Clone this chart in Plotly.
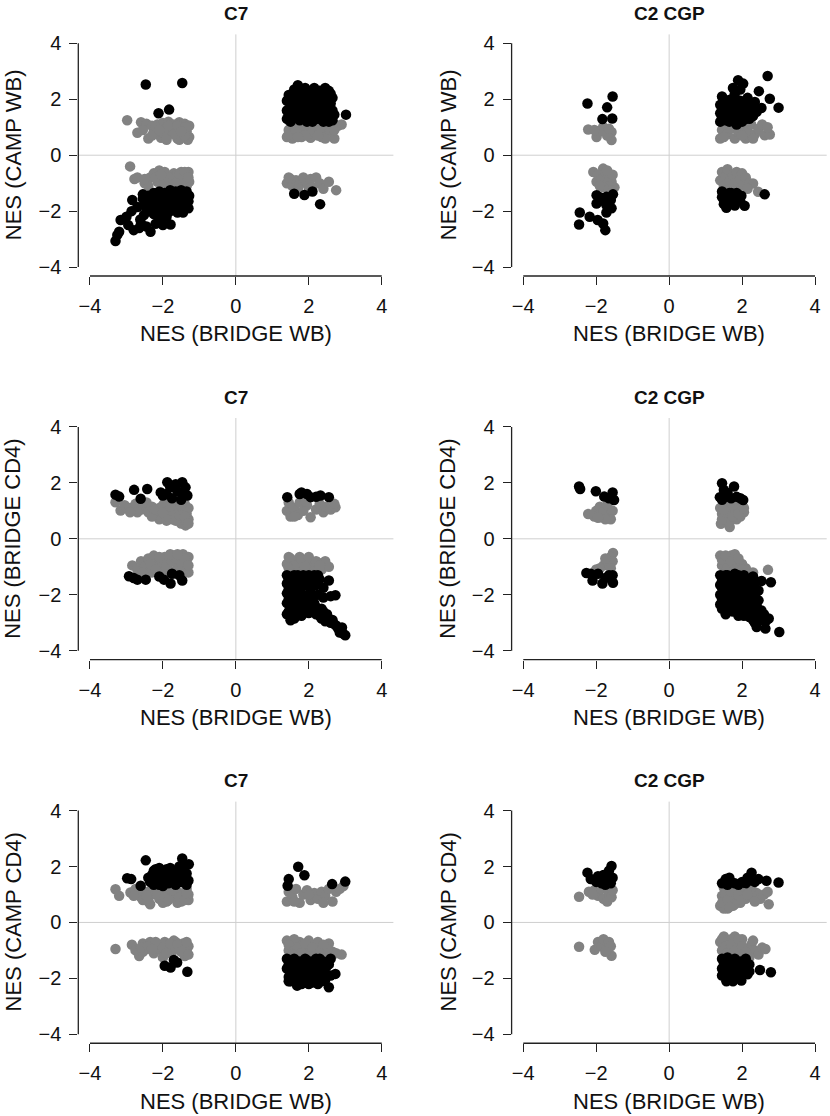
import plotly.graph_objects as go

# ---------------- data (NES values) ----------------
titles = ["C7", "C2 CGP", "C7", "C2 CGP", "C7", "C2 CGP"]
x_label = "NES (BRIDGE WB)"
y_labels = ["NES (CAMP WB)", "NES (CAMP WB)", "NES (BRIDGE CD4)", "NES (BRIDGE CD4)",
            "NES (CAMP CD4)", "NES (CAMP CD4)"]
tick_vals = [-4, -2, 0, 2, 4]
tick_text = ["\u22124", "\u22122", "0", "2", "4"]

# Panel 1: C7, CAMP WB vs BRIDGE WB
p1_gray = [(-2.98,1.25),(-2.6,1.18),(-2.45,1.12),(-2.3,1.05),(-2.15,1.1),(-2.0,1.15),(-1.85,1.2),(-1.7,1.1),(-1.55,1.18),(-1.4,1.12),(-1.28,1.05),
           (-2.7,0.8),(-2.55,0.9),(-2.4,0.6),(-2.25,0.85),(-2.1,0.75),(-1.95,0.95),(-1.8,0.8),(-1.65,0.9),(-1.5,0.7),(-1.35,0.85),(-1.28,0.65),
           (-2.05,0.62),(-1.9,0.68),(-1.75,1.0),(-1.6,0.6),(-1.45,0.95),(-1.32,0.55),(-1.55,0.55),(-2.2,1.0),
           (-2.3,0.7),(-2.0,0.8),(-1.85,1.05),(-1.7,0.75),(-1.6,1.05),(-1.4,0.7),(-1.38,1.0),(-1.5,0.85),(-2.1,0.9),(-1.9,0.55),
           (-2.9,-0.4),(-2.78,-0.85),(-2.7,-0.8),(-2.5,-1.0),(-2.35,-0.8),(-2.25,-0.65),(-2.1,-0.55),(-2.0,-0.85),(-1.9,-0.7),(-1.8,-1.0),(-1.7,-0.65),
           (-1.6,-0.85),(-1.5,-0.6),(-1.4,-0.75),(-1.3,-0.6),(-1.28,-0.95),(-1.35,-1.1),(-1.55,-1.05),(-1.75,-0.85),(-2.15,-0.95),(-2.4,-1.1),(-1.95,-1.05),(-1.62,-0.7),(-1.45,-0.9),
           (-2.2,-0.8),(-1.95,-0.6),(-1.85,-0.8),(-1.7,-0.9),(-1.55,-0.7),(-1.4,-0.6),(-1.3,-0.8),(-2.05,-0.7),(-1.65,-1.0),(-2.5,-0.85),
           (1.4,0.65),(1.45,0.9),(1.5,1.15),(1.6,0.75),(1.7,1.0),(1.8,0.65),(1.9,0.85),(2.0,1.1),(2.1,0.7),(2.2,0.95),(2.3,1.15),(2.4,0.8),(2.5,1.0),(2.6,0.85),
           (2.7,0.6),(2.8,1.05),(2.9,1.1),(2.55,1.15),(1.55,0.6),(2.05,0.62),(2.35,0.65),(1.75,1.18),(2.15,1.15),
           (1.45,0.75),(1.65,0.9),(1.85,1.05),(1.95,0.7),(2.15,0.85),(2.3,0.95),(2.45,0.6),(2.7,0.9),(1.7,0.65),(2.25,0.7),
           (1.4,-1.0),(1.5,-0.85),(1.55,-1.1),(1.65,-0.9),(1.75,-1.05),(1.85,-0.8),(1.95,-1.0),(2.05,-0.85),(2.1,-1.15),(2.2,-0.8),(2.3,-1.0),(2.4,-1.2),
           (2.55,-0.95),(2.75,-1.25),(1.45,-0.8),(2.0,-1.2),(1.7,-1.2)]
p1_black = [(-2.47,2.53),(-1.47,2.58),(-2.12,1.5),(-1.83,1.63),
            (-2.55,-1.4),(-2.4,-1.45),(-2.25,-1.35),(-2.1,-1.3),(-1.95,-1.35),(-1.8,-1.25),(-1.65,-1.3),(-1.5,-1.25),(-1.35,-1.3),(-1.28,-1.45),
            (-2.5,-1.7),(-2.35,-1.65),(-2.2,-1.55),(-2.05,-1.6),(-1.9,-1.5),(-1.75,-1.55),(-1.6,-1.5),(-1.45,-1.55),(-1.3,-1.65),
            (-2.45,-1.95),(-2.3,-1.85),(-2.15,-1.9),(-2.0,-1.8),(-1.85,-1.75),(-1.7,-1.85),(-1.55,-1.75),(-1.4,-1.85),(-1.3,-1.9),
            (-2.25,-2.1),(-2.05,-2.05),(-1.8,-2.0),(-1.6,-2.05),(-1.45,-2.05),
            (-2.4,-1.75),(-2.15,-1.7),(-1.95,-1.65),(-1.65,-1.65),(-1.45,-1.4),(-1.35,-1.75),(-2.3,-1.5),(-2.0,-1.95),(-1.75,-1.4),(-1.55,-1.95),
            (-2.55,-1.55),(-2.35,-2.0),(-2.1,-2.2),(-1.9,-2.2),(-1.85,-1.9),(-1.5,-1.65),
            (-2.84,-1.6),(-2.86,-2.0),(-2.7,-1.85),(-2.62,-2.3),(-2.52,-2.14),(-2.6,-2.44),(-2.8,-2.68),(-2.65,-2.6),(-2.34,-2.74),(-2.2,-2.45),
            (-2.0,-2.5),(-1.79,-2.48),(-2.45,-2.55),(-3.16,-2.32),(-3.2,-2.74),(-3.3,-3.07),(-3.25,-2.85),(-3.0,-2.2),(-2.95,-2.5),
            (1.4,1.3),(1.4,1.6),(1.4,1.95),(1.5,1.2),(1.5,1.45),(1.5,1.75),(1.55,2.05),(1.6,1.35),(1.65,1.6),(1.65,1.85),(1.7,2.2),(1.7,2.5),
            (1.75,1.25),(1.8,1.5),(1.8,1.95),(1.85,2.3),(1.9,1.7),(1.95,1.3),(1.95,2.05),(2.0,1.55),(2.05,2.25),(2.05,1.85),(2.1,1.2),(2.15,1.45),
            (2.2,1.7),(2.2,2.1),(2.25,1.3),(2.3,1.9),(2.3,2.3),(2.35,1.55),(2.4,1.2),(2.45,2.4),(2.45,1.75),(2.5,2.05),(2.55,1.4),(2.6,1.85),
            (2.6,2.2),(2.65,1.6),(2.65,1.25),(3.02,1.45),(1.45,2.15),(1.6,2.35),(1.9,2.4),(2.15,2.4),(2.4,2.15),(2.55,1.2),
            (1.45,1.45),(1.55,1.6),(1.6,1.9),(1.75,1.7),(1.85,1.35),(1.9,2.1),(2.0,1.75),(2.1,1.55),(2.1,2.0),(2.25,1.5),(2.3,1.7),(2.35,2.1),
            (2.4,1.4),(2.5,1.6),(2.5,1.85),(2.55,2.3),(1.95,1.2),(2.25,2.2),(1.75,2.05),(1.55,1.3),(2.7,1.45),(2.65,2.05),
            (1.6,-1.38),(1.88,-1.42),(2.1,-1.3),(2.31,-1.75)]

# Panel 2: C2 CGP, CAMP WB vs BRIDGE WB
p2_gray = [(-2.22,0.92),(-1.99,0.65),(-1.81,1.01),(-1.58,0.83),(-1.58,0.54),(-1.9,0.85),(-1.7,0.7),(-2.05,0.9),(-1.65,0.95),
           (-2.08,-0.6),(-1.81,-0.48),(-1.58,-0.95),(-1.99,-0.95),(-1.95,-0.7),(-1.85,-0.85),(-1.75,-0.6),(-1.7,-1.0),(-1.65,-0.75),(-1.55,-0.7),
           (-1.5,-1.15),(-1.6,-1.25),(-1.8,-1.15),(-1.9,-1.1),(-1.7,-0.55),
           (1.4,0.6),(1.45,0.9),(1.55,1.1),(1.6,0.75),(1.7,0.95),(1.8,0.6),(1.9,0.8),(2.0,1.05),(2.1,0.6),(2.15,0.85),(2.25,1.1),(2.35,0.75),
           (2.45,0.95),(2.55,1.1),(2.62,0.71),(2.76,0.74),(2.7,1.0),(1.5,0.65),(2.0,0.7),(1.85,1.1),(2.3,0.6),
           (1.4,-0.9),(1.45,-0.6),(1.5,-1.1),(1.55,-0.75),(1.6,-0.5),(1.65,-0.95),(1.7,-1.2),(1.75,-0.7),(1.8,-1.0),(1.85,-0.6),(1.9,-1.15),
           (1.95,-0.85),(2.0,-0.65),(2.05,-1.05),(2.1,-0.8),(2.2,-1.0),(2.3,-1.01),(2.44,-1.31),(2.15,-1.2),(1.5,-1.25)]
p2_black = [(-2.24,1.85),(-1.7,1.71),(-1.55,2.1),(-1.83,1.29),(-1.56,1.31),
            (-2.45,-2.05),(-2.47,-2.48),(-2.18,-2.2),(-1.96,-2.32),(-1.81,-2.44),(-1.75,-2.68),(-1.99,-1.73),(-1.72,-1.79),(-1.58,-1.9),
            (-1.72,-2.05),(-1.99,-1.43),(-1.72,-1.49),(-1.54,-1.4),(-1.85,-1.6),(-1.6,-1.6),(-1.9,-1.5),
            (1.4,1.2),(1.4,1.5),(1.4,1.8),(1.45,2.1),(1.5,1.35),(1.55,1.65),(1.6,1.95),(1.65,1.2),(1.7,1.5),(1.75,1.8),(1.8,2.2),(1.85,1.3),
            (1.9,1.6),(1.95,1.95),(2.0,1.2),(2.05,1.45),(2.1,1.75),(2.15,2.05),(2.2,1.3),(2.25,1.6),(2.3,1.4),(1.6,1.4),(1.75,2.4),(1.89,2.68),
            (2.03,2.56),(1.95,2.35),(2.46,2.29),(2.76,2.02),(2.7,2.83),(3.0,1.7),(2.53,1.69),(2.4,1.55),(2.35,1.9),(1.5,2.0),(1.85,1.1),
            (1.45,1.65),(1.55,1.25),(1.6,1.75),(1.65,1.5),(1.7,2.0),(1.8,1.55),(1.85,1.85),(1.95,1.4),(2.0,1.65),(2.1,1.3),(2.15,1.55),
            (2.2,1.85),(1.45,1.35),(1.75,1.25),
            (1.45,-1.3),(1.5,-1.6),(1.55,-1.45),(1.57,-1.88),(1.65,-1.35),(1.7,-1.7),(1.75,-1.5),(1.8,-1.8),(1.85,-1.35),(1.9,-1.6),
            (1.98,-1.45),(2.07,-1.81),(2.62,-1.4),(1.6,-1.7),(1.45,-1.5),(1.6,-1.45),(1.7,-1.35),(1.8,-1.55),(1.95,-1.65),(1.5,-1.75)]

# Panel 3: C7, BRIDGE CD4 vs BRIDGE WB
p3_gray = [(-3.3,1.31),(-3.16,1.01),(-3.05,1.2),(-2.9,1.1),(-2.75,1.25),(-2.6,1.05),(-2.5,1.2),(-2.4,0.95),(-2.3,1.15),(-2.2,0.85),(-2.1,1.1),
           (-2.0,0.75),(-1.95,1.3),(-1.85,0.95),(-1.75,0.7),(-1.7,1.2),(-1.6,0.85),(-1.55,1.05),(-1.45,0.65),(-1.4,1.25),(-1.35,0.9),(-1.3,1.1),
           (-1.38,0.48),(-1.3,0.7),(-1.5,0.55),(-2.1,0.7),(-2.3,0.8),(-2.7,0.95),(-1.9,0.65),(-1.6,1.3),(-2.45,1.3),
           (-2.9,0.95),(-2.55,1.3),(-2.2,1.05),(-2.0,1.2),(-1.85,0.8),(-1.75,1.0),(-1.65,0.65),(-1.55,0.85),(-1.45,1.1),(-1.35,0.6),(-1.4,0.8),
           (-1.3,0.55),(-1.5,1.2),(-2.0,0.95),(-1.8,1.15),
           (-2.84,-0.95),(-2.7,-1.1),(-2.6,-0.8),(-2.5,-1.0),(-2.4,-0.7),(-2.3,-1.2),(-2.25,-0.6),(-2.15,-0.9),(-2.05,-1.1),(-1.95,-0.65),
           (-1.85,-0.85),(-1.8,-1.15),(-1.7,-0.6),(-1.6,-1.0),(-1.55,-0.75),(-1.45,-0.55),(-1.4,-1.1),(-1.35,-0.85),(-1.3,-1.2),(-1.3,-0.65),
           (-2.0,-1.25),(-2.55,-1.2),(-1.65,-1.25),
           (-2.35,-0.9),(-2.2,-1.1),(-2.0,-0.85),(-1.9,-1.0),(-1.75,-0.8),(-1.65,-0.7),(-1.5,-0.9),(-1.4,-0.7),(-1.3,-0.95),(-1.55,-1.15),
           (-2.1,-0.65),(-1.8,-0.55),(-1.6,-0.55),
           (1.4,1.0),(1.45,1.3),(1.5,0.8),(1.6,1.1),(1.7,0.85),(1.75,1.3),(1.85,1.0),(1.95,1.2),(2.05,0.77),(2.2,1.05),(2.3,1.25),(2.4,0.95),
           (2.46,1.15),(2.6,1.05),(2.73,1.13),(2.7,1.25),(1.6,0.8),(1.9,1.35),
           (1.4,-0.9),(1.45,-0.65),(1.5,-1.1),(1.6,-0.8),(1.7,-1.0),(1.75,-0.65),(1.85,-0.9),(1.95,-1.1),(2.05,-0.8),(2.15,-1.0),(2.25,-0.85),
           (2.35,-1.1),(2.45,-0.8),(2.55,-1.0),(1.55,-1.15),(2.0,-1.15),
           (1.5,-0.7),(1.6,-0.95),(1.8,-0.75),(1.9,-1.0),(2.0,-0.65),(2.2,-0.8),(1.45,-1.05),(2.3,-0.95)]
p3_black = [(-3.3,1.58),(-3.2,1.51),(-2.79,1.75),(-2.43,1.78),(-2.61,1.43),(-2.06,1.66),(-1.88,2.02),(-1.47,2.02),(-1.38,1.84),(-1.7,1.84),
            (-1.33,1.55),(-1.9,1.6),(-1.75,1.45),(-1.6,1.7),(-1.5,1.4),(-1.8,1.85),(-2.0,1.55),(-1.65,1.95),(-1.42,1.65),
            (-2.93,-1.34),(-2.7,-1.46),(-2.47,-1.46),(-1.97,-1.46),(-1.79,-1.6),(-1.75,-1.25),(-1.47,-1.49),(-1.55,-1.3),(-2.1,-1.35),(-2.8,-1.4),
            (1.41,1.49),(1.8,1.66),(2.05,1.49),(2.32,1.55),(2.55,1.49),(1.95,1.6),(2.2,1.5),(1.75,1.6),
            (1.4,-1.3),(1.4,-1.6),(1.4,-1.95),(1.4,-2.3),(1.45,-2.6),(1.5,-1.45),(1.5,-1.8),(1.5,-2.15),(1.55,-2.45),(1.55,-2.8),(1.6,-1.3),
            (1.65,-1.65),(1.65,-2.0),(1.65,-2.35),(1.7,-2.7),(1.75,-1.45),(1.75,-1.85),(1.8,-2.2),(1.8,-2.5),(1.85,-1.3),(1.9,-1.65),(1.9,-2.05),
            (1.95,-2.4),(2.0,-1.45),(2.0,-2.2),(2.05,-1.8),(2.1,-2.55),(2.15,-1.3),(2.2,-1.65),(2.25,-2.0),(2.3,-1.45),(2.3,-2.75),(2.4,-2.6),
            (2.4,-1.75),(2.5,-2.85),(2.55,-1.49),(2.6,-2.05),(2.68,-3.03),(2.73,-2.02),(2.8,-3.2),(2.91,-3.17),(3.0,-3.45),(2.95,-3.4),(2.85,-3.35),
            (2.2,-2.7),(2.6,-3.0),(2.45,-2.95),(1.5,-2.91),(1.6,-2.85),(2.0,-2.65),(2.15,-2.3),
            (1.45,-1.45),(1.45,-1.8),(1.45,-2.15),(1.5,-2.45),(1.55,-1.6),(1.6,-2.0),(1.6,-2.6),(1.7,-1.3),(1.7,-2.15),(1.7,-2.45),(1.75,-1.65),
            (1.85,-2.0),(1.85,-2.35),(1.9,-1.45),(1.95,-2.6),(2.0,-1.65),(2.05,-2.4),(2.1,-1.45),(2.1,-2.05),(2.2,-2.45),(2.35,-2.5),(2.5,-2.7),
            (2.65,-2.9),(2.75,-3.1),(2.35,-2.85),(1.55,-2.25),(1.8,-2.75),(1.65,-1.45),(2.25,-1.3),(2.0,-1.3),(2.4,-2.1),(1.4,-2.7)]

# Panel 4: C2 CGP, BRIDGE CD4 vs BRIDGE WB
p4_gray = [(-2.22,0.89),(-1.86,0.77),(-2.0,1.0),(-1.9,1.15),(-1.8,0.95),(-1.7,1.2),(-1.65,0.8),(-1.55,1.0),(-1.6,0.7),(-1.75,0.7),(-2.05,0.8),(-1.95,0.75),
           (-1.54,-0.51),(-1.6,-0.65),(-1.7,-0.8),(-1.8,-0.95),(-1.9,-1.05),(-2.0,-1.1),(-1.65,-0.9),(-1.55,-0.8),(-1.75,-0.7),(-1.6,-1.05),
           (1.42,0.54),(1.66,0.42),(1.45,0.9),(1.5,1.2),(1.55,0.75),(1.6,1.05),(1.7,0.85),(1.75,1.2),(1.8,0.95),(1.9,1.1),(1.95,0.8),(2.05,0.95),
           (1.4,1.1),(1.65,0.6),(1.85,0.7),(2.0,1.2),(1.45,0.7),(1.55,0.95),(1.65,1.2),(1.75,0.8),(1.9,0.9),(2.05,1.1),(1.5,1.05),
           (1.4,-0.6),(1.45,-0.95),(1.5,-0.7),(1.55,-1.2),(1.6,-0.85),(1.7,-0.6),(1.75,-1.0),(1.85,-0.75),(1.9,-1.15),(2.0,-0.9),(2.1,-1.05),
           (2.2,-1.2),(2.71,-1.11),(1.65,-1.25),(1.8,-0.55),
           (1.45,-0.75),(1.55,-0.6),(1.6,-1.05),(1.7,-0.8),(1.8,-1.1),(1.9,-0.7),(2.0,-1.1),(2.3,-1.2)]
p4_black = [(-2.47,1.87),(-2.44,1.78),(-2.01,1.7),(-1.78,1.51),(-1.55,1.66),(-1.51,1.39),(-1.65,1.45),
            (-2.27,-1.22),(-2.1,-1.49),(-1.83,-1.6),(-1.54,-1.57),(-1.65,-1.3),(-1.95,-1.25),(-2.15,-1.25),(-1.75,-1.4),(-1.55,-1.3),
            (1.45,1.99),(1.78,1.87),(2.03,1.39),(1.39,1.49),(1.6,1.65),(1.5,1.75),(1.7,1.45),(1.85,1.5),(1.45,1.4),(1.95,1.45),(1.55,1.5),
            (1.4,-1.3),(1.4,-1.65),(1.4,-2.0),(1.4,-2.35),(1.45,-1.5),(1.5,-1.85),(1.5,-2.2),(1.55,-1.3),(1.6,-1.6),(1.6,-2.0),(1.65,-2.4),
            (1.7,-1.4),(1.7,-1.8),(1.75,-2.15),(1.75,-2.6),(1.8,-1.25),(1.85,-1.6),(1.85,-1.95),(1.9,-2.35),(1.95,-1.4),(2.0,-1.75),(2.0,-2.1),
            (2.0,-2.6),(2.05,-1.3),(2.1,-1.55),(2.1,-1.95),(2.15,-2.4),(2.2,-1.45),(2.2,-1.8),(2.25,-2.15),(2.3,-2.65),(2.35,-1.6),(2.35,-2.0),
            (2.4,-2.4),(2.45,-1.85),(2.4,-3.15),(2.53,-2.56),(2.53,-1.51),(2.64,-3.21),(2.73,-2.85),(2.79,-1.55),(3.02,-3.33),(2.5,-2.9),
            (2.6,-2.7),(2.3,-2.9),(1.55,-2.7),(1.9,-2.75),(2.2,-2.8),
            (1.45,-1.75),(1.45,-2.15),(1.5,-1.4),(1.55,-2.4),(1.6,-1.8),(1.65,-2.2),(1.65,-1.45),(1.75,-1.95),(1.8,-2.4),(1.8,-1.6),(1.9,-1.75),
            (1.95,-2.15),(1.95,-2.5),(2.05,-1.85),(2.1,-2.3),(2.15,-1.65),(2.25,-1.95),(2.3,-1.35),(2.3,-2.4),(2.45,-2.2),(2.4,-2.75),(2.2,-2.6),
            (1.85,-2.6),(1.45,-2.5),(2.05,-2.75),(2.65,-2.95),(2.35,-3.0),(1.6,-1.3),(1.9,-1.3)]

# Panel 5: C7, CAMP CD4 vs BRIDGE WB
p5_gray = [(-3.3,1.19),(-3.2,0.95),(-2.89,1.07),(-2.75,1.2),(-2.6,0.9),(-2.5,1.1),(-2.4,0.75),(-2.3,1.0),(-2.2,1.2),(-2.1,0.85),(-2.0,1.05),
           (-1.9,0.75),(-1.8,1.15),(-1.7,0.9),(-1.6,1.1),(-1.5,0.75),(-1.45,1.0),(-1.35,1.2),(-1.3,0.8),(-1.3,1.0),(-2.0,0.7),(-1.6,0.7),
           (-2.35,0.65),(-1.75,1.3),(-2.65,1.05),
           (-2.55,0.8),(-2.3,1.2),(-2.15,1.0),(-1.95,0.9),(-1.85,0.8),(-1.7,1.15),(-1.55,0.9),(-1.4,0.8),(-1.35,1.05),(-2.45,0.95),(-2.8,0.95),
           (-3.3,-0.95),(-2.85,-0.8),(-2.75,-1.0),(-2.65,-1.2),(-2.55,-0.75),(-2.45,-0.95),(-2.35,-0.7),(-2.25,-1.1),(-2.15,-0.85),(-2.05,-1.0),
           (-1.95,-0.7),(-1.85,-0.9),(-1.75,-1.05),(-1.65,-0.7),(-1.55,-0.95),(-1.45,-0.75),(-1.35,-1.0),(-1.3,-0.85),(-1.4,-1.2),(-2.0,-1.25),
           (-2.55,-1.05),(-1.7,-0.65),
           (-2.6,-0.9),(-2.4,-0.85),(-2.2,-0.7),(-2.0,-0.9),(-1.9,-1.1),(-1.8,-0.75),(-1.6,-0.8),(-1.5,-1.05),(-1.35,-0.7),(-1.3,-1.15),(-2.3,-0.95),
           (1.4,0.75),(1.45,1.1),(1.55,0.9),(1.65,1.2),(1.75,0.7),(1.85,1.0),(1.95,1.15),(2.05,0.8),(2.15,1.05),(2.25,0.85),(2.35,1.1),
           (2.45,0.95),(2.55,1.2),(2.65,0.75),(2.75,1.1),(2.85,1.2),(2.95,1.3),(1.6,0.75),(2.0,1.0),(2.4,0.7),
           (1.4,-0.65),(1.45,-1.0),(1.55,-0.8),(1.65,-1.2),(1.75,-0.7),(1.85,-0.95),(1.95,-1.15),(2.05,-0.8),(2.15,-1.05),(2.25,-0.7),
           (2.35,-0.95),(2.45,-1.2),(2.55,-0.75),(2.65,-1.05),(2.75,-1.1),(2.9,-1.15),(1.6,-0.6),(2.0,-0.65),(2.5,-0.95),
           (1.45,-0.8),(1.6,-1.0),(1.7,-0.9),(1.8,-1.1),(1.9,-0.75),(2.1,-0.9),(2.2,-1.15),(2.4,-0.8),(1.55,-1.15),(2.3,-1.1)]
p5_black = [(-2.47,2.22),(-2.98,1.58),(-2.87,1.55),(-2.61,1.31),(-2.35,1.45),(-2.3,1.7),(-2.2,1.9),(-2.15,1.5),(-2.05,1.75),(-1.95,1.4),
            (-1.9,1.9),(-1.85,1.6),(-1.75,1.45),(-1.7,1.85),(-1.6,1.6),(-1.55,2.0),(-1.47,2.29),(-1.4,1.45),(-1.35,1.75),(-1.29,2.08),(-1.3,1.5),
            (-2.0,1.3),(-1.65,1.35),(-2.4,1.6),(-1.5,1.8),(-1.8,1.95),(-2.25,1.35),
            (-2.3,1.45),(-2.2,1.65),(-2.1,1.35),(-2.05,1.55),(-1.95,1.75),(-1.85,1.4),(-1.75,1.7),(-1.65,1.55),(-1.6,1.85),(-1.5,1.45),
            (-1.45,1.65),(-1.35,1.35),(-1.4,2.05),(-2.25,1.85),(-2.1,1.95),(-1.9,1.55),
            (-1.95,-1.55),(-1.79,-1.61),(-1.61,-1.43),(-1.7,-1.34),(-1.33,-1.76),
            (1.45,1.55),(1.42,1.31),(1.71,1.99),(1.88,1.69),(2.64,1.37),(3.0,1.46),
            (1.4,-1.3),(1.4,-1.65),(1.45,-1.95),(1.5,-1.45),(1.55,-1.8),(1.6,-1.3),(1.65,-1.6),(1.68,-2.26),(1.7,-2.0),(1.75,-1.4),(1.8,-1.75),
            (1.85,-2.1),(1.9,-1.3),(1.95,-1.6),(2.0,-1.9),(2.05,-1.45),(2.1,-2.15),(2.15,-1.75),(2.2,-1.3),(2.25,-1.95),(2.3,-1.55),(2.35,-2.1),
            (2.4,-1.4),(2.45,-1.8),(2.5,-1.55),(2.55,-2.32),(2.6,-1.3),(2.73,-1.84),(1.5,-2.1),(2.0,-2.2),(1.8,-1.45),
            (1.45,-1.5),(1.5,-1.85),(1.55,-1.35),(1.6,-2.0),(1.7,-1.6),(1.75,-1.9),(1.85,-1.5),(1.9,-2.15),(1.95,-1.35),(2.05,-1.75),(2.1,-1.4),
            (2.15,-2.0),(2.25,-1.6),(2.3,-1.3),(2.4,-1.7),(2.45,-2.05),(2.55,-1.5),(2.6,-1.9),(1.45,-2.1),(2.25,-2.2),(1.8,-2.2),(2.4,-1.95)]

# Panel 6: C2 CGP, CAMP CD4 vs BRIDGE WB
p6_gray = [(-2.47,0.92),(-2.2,1.1),(-2.05,1.15),(-1.95,0.95),(-1.85,1.2),(-1.8,0.85),(-1.7,0.75),(-1.65,1.05),(-1.58,0.9),(-1.55,1.15),(-2.1,1.0),
           (-2.47,-0.87),(-2.04,-0.98),(-1.58,-1.19),(-1.95,-0.7),(-1.85,-0.85),(-1.8,-0.6),(-1.7,-0.95),(-1.65,-0.7),(-1.6,-0.85),(-1.75,-1.05),
           (1.4,0.6),(1.45,0.95),(1.5,1.25),(1.55,0.75),(1.6,0.5),(1.65,1.05),(1.7,0.8),(1.75,0.6),(1.8,1.15),(1.85,0.9),(1.95,0.7),(2.0,1.05),
           (2.1,0.85),(2.2,1.1),(2.3,0.9),(2.4,1.05),(2.5,0.85),(2.6,1.0),(2.73,0.65),(2.7,1.1),(1.5,0.5),(1.9,1.25),(2.25,1.25),
           (1.45,0.7),(1.55,1.0),(1.6,0.8),(1.7,1.1),(1.8,0.65),(1.9,0.95),(2.0,0.8),(2.15,1.0),(1.65,0.55),(2.35,0.75),
           (1.4,-0.7),(1.45,-1.0),(1.5,-0.5),(1.55,-1.2),(1.6,-0.85),(1.7,-0.6),(1.75,-1.05),(1.85,-0.75),(1.9,-1.15),(2.0,-0.6),(2.05,-0.95),
           (2.15,-1.15),(2.25,-0.8),(2.35,-1.0),(2.45,-1.15),(2.55,-0.9),(2.64,-0.95),(1.5,-1.3),(2.2,-1.25),(1.8,-0.5),
           (1.45,-0.6),(1.55,-0.85),(1.6,-1.1),(1.7,-0.8),(1.8,-1.0),(1.9,-0.6),(2.0,-0.85),(2.1,-1.05),(2.3,-0.65),(1.65,-1.25)]
p6_black = [(-2.24,1.78),(-1.58,2.02),(-2.15,1.55),(-2.0,1.45),(-1.95,1.65),(-1.85,1.4),(-1.8,1.7),(-1.7,1.55),(-1.65,1.85),(-1.6,1.4),
            (-1.55,1.6),(-1.75,1.35),
            (1.45,1.4),(1.55,1.55),(1.6,1.35),(1.7,1.45),(1.8,1.4),(1.9,1.35),(2.0,1.45),(2.1,1.4),(2.26,1.78),(2.2,1.5),(2.35,1.45),
            (2.45,1.55),(2.67,1.49),(3.0,1.43),(1.65,1.6),(2.15,1.6),
            (1.45,-1.3),(1.45,-1.65),(1.5,-1.9),(1.55,-1.5),(1.57,-2.1),(1.6,-1.25),(1.65,-1.75),(1.7,-1.45),(1.75,-1.95),(1.8,-1.3),
            (1.85,-1.6),(1.9,-1.85),(1.98,-2.08),(1.95,-1.4),(2.05,-1.65),(2.1,-1.3),(2.15,-1.85),(2.2,-1.5),(2.49,-1.7),(2.79,-1.78),(1.75,-2.1),
            (1.5,-1.45),(1.55,-1.75),(1.6,-1.95),(1.7,-1.65),(1.75,-1.35),(1.85,-1.8),(1.9,-1.45),(1.95,-1.7),(2.0,-1.9),(2.1,-1.55),(2.2,-1.75),(1.45,-1.9)]

panels_gray = [p1_gray, p2_gray, p3_gray, p4_gray, p5_gray, p6_gray]
panels_black = [p1_black, p2_black, p3_black, p4_black, p5_black, p6_black]

# ---------------- layout (pixel geometry) ----------------
W, H = 830, 1116
col_left = [78.3, 511.6]
col_w = 315.1
row_top = [32.5, 417.5, 802.5]
row_h = 242.5
title_y = [12, 397, 781]
xtitle_off = 58
ytitle_x = [13, 448]
FONT = "Liberation Sans, Arial, Helvetica, sans-serif"
GRAY = "#828282"
RNG = [-4.32, 4.32]

fig = go.Figure()
annotations = []
shapes = []
layout_axes = {}

for i in range(6):
    r, c = divmod(i, 2)
    n = i + 1
    xa = "x" if n == 1 else f"x{n}"
    ya = "y" if n == 1 else f"y{n}"
    for pts, col in ((panels_gray[i], GRAY), (panels_black[i], "#000000")):
        fig.add_trace(go.Scatter(
            x=[p[0] for p in pts], y=[p[1] for p in pts], mode="markers",
            marker=dict(size=10.5, color=col, line=dict(width=0)),
            xaxis=xa, yaxis=ya, showlegend=False, hoverinfo="x+y"))
    x0 = col_left[c] / W
    x1 = (col_left[c] + col_w) / W
    y1 = 1 - row_top[r] / H
    y0 = 1 - (row_top[r] + row_h) / H
    axcommon = dict(range=RNG, tickvals=tick_vals, ticktext=tick_text, ticks="outside",
                    ticklen=8, tickwidth=1.3, tickcolor="#222", showline=False,
                    showgrid=False, zeroline=False, fixedrange=True,
                    tickfont=dict(family=FONT, size=20, color="#111"),
                    ticklabelstandoff=4)
    layout_axes["xaxis" if n == 1 else f"xaxis{n}"] = dict(domain=[x0, x1], anchor=ya, **axcommon)
    layout_axes["yaxis" if n == 1 else f"yaxis{n}"] = dict(domain=[y0, y1], anchor=xa, **axcommon)

    xref_d = f"{xa} domain"
    yref_d = f"{ya} domain"
    # zero reference lines
    shapes.append(dict(type="line", xref=xa, yref=yref_d, x0=0, x1=0, y0=0, y1=1,
                       line=dict(color="#cfcfcf", width=1), layer="below"))
    shapes.append(dict(type="line", xref=xref_d, yref=ya, x0=0, x1=1, y0=0, y1=0,
                       line=dict(color="#cfcfcf", width=1), layer="below"))
    # R-style axis lines spanning -4..4
    shapes.append(dict(type="line", xref=xa, yref=yref_d, x0=-4, x1=4, y0=0, y1=0,
                       line=dict(color="#222", width=1.3)))
    shapes.append(dict(type="line", xref=xref_d, yref=ya, x0=0, x1=0, y0=-4, y1=4,
                       line=dict(color="#222", width=1.3)))

    cx = (col_left[c] + col_w / 2) / W
    annotations.append(dict(text=f"<b>{titles[i]}</b>", x=cx, y=1 - title_y[r] / H,
                            xref="paper", yref="paper", showarrow=False,
                            xanchor="center", yanchor="middle",
                            font=dict(family=FONT, size=19, color="#111")))
    annotations.append(dict(text=x_label, x=cx, y=1 - (row_top[r] + row_h + xtitle_off) / H,
                            xref="paper", yref="paper", showarrow=False,
                            xanchor="center", yanchor="middle",
                            font=dict(family=FONT, size=22, color="#111")))
    annotations.append(dict(text=y_labels[i], x=ytitle_x[c] / W,
                            y=1 - (row_top[r] + row_h / 2) / H,
                            xref="paper", yref="paper", showarrow=False, textangle=-90,
                            xanchor="center", yanchor="middle",
                            font=dict(family=FONT, size=22, color="#111")))

fig.update_layout(width=W, height=H, margin=dict(l=0, r=0, t=0, b=0),
                  plot_bgcolor="white", paper_bgcolor="white",
                  annotations=annotations, shapes=shapes, **layout_axes)

fig.write_html("out.html", config={"displayModeBar": False},
               post_script="document.body.style.margin='0px';document.body.style.overflow='hidden';")
